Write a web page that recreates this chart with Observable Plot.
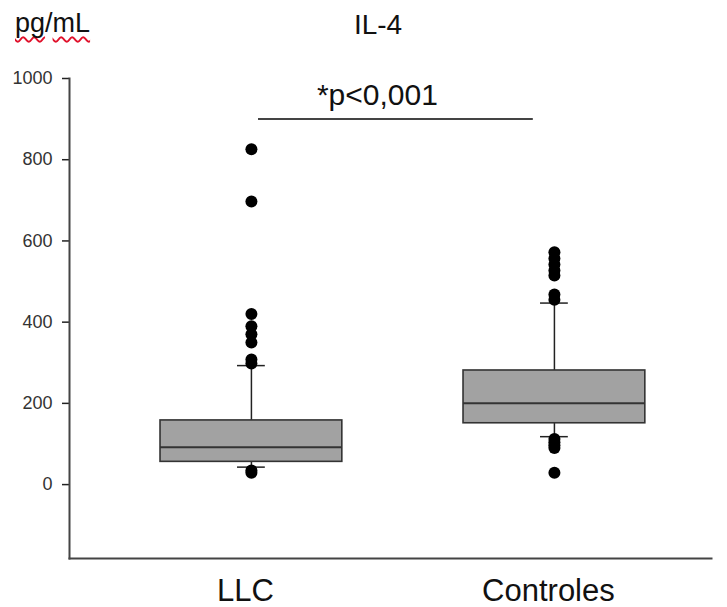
<!DOCTYPE html>
<html>
<head>
<meta charset="utf-8">
<script src="https://cdn.jsdelivr.net/npm/d3@7"></script>
<script src="https://cdn.jsdelivr.net/npm/@observablehq/plot@0.6"></script>
<style>
  html, body { margin: 0; padding: 0; background: #fff; overflow: hidden; }
  #wrap { position: relative; width: 727px; height: 607px; font-family: "Liberation Sans", Arial, sans-serif; }
  .lbl { position: absolute; color: #111; line-height: 1; white-space: nowrap; }
  .sq { text-decoration: underline wavy #e0102a; text-decoration-skip-ink: none; text-underline-offset: 4px; text-decoration-thickness: 1.5px; }
</style>
</head>
<body>
<div id="wrap">
  <div class="lbl" style="left:15px; top:10px; font-size:27px;"><span class="sq">pg</span>/<span class="sq">mL</span></div>
  <div class="lbl" style="left:378px; top:11px; font-size:28px; transform:translateX(-50%);">IL-4</div>
</div>
<script>
// Box statistics (pg/mL)
const groups = ["LLC", "Controles"];
const q1 = [56, 151];
const median = [92, 200];
const q3 = [158, 281];
const whiskerLow = [43, 118];
const whiskerHigh = [293, 447];
const outliersLLC = [826, 697, 420, 390, 370, 350, 308, 298, 35, 29];
const outliersControles = [572, 557, 542, 527, 515, 468, 455, 112, 104, 97, 90, 29];
const yTicks = [0, 200, 400, 600, 800, 1000];
const sigLabel = "*p<0,001";
const sigValue = 900;

const boxes = groups.map((g, i) => ({
  group: g, q1: q1[i], median: median[i], q3: q3[i], lo: whiskerLow[i], hi: whiskerHigh[i]
}));
const outliers = [
  ...outliersLLC.map(v => ({group: "LLC", value: v})),
  ...outliersControles.map(v => ({group: "Controles", value: v}))
];
const sig = [{from: groups[0], to: groups[1], y: sigValue, label: sigLabel}];

const chart = Plot.plot({
  width: 727,
  height: 607,
  marginTop: 78,
  marginBottom: 49,
  marginLeft: 69,
  marginRight: 16,
  style: {fontFamily: "'Liberation Sans', Arial, sans-serif", background: "#fff", color: "#222", overflow: "visible"},
  x: {domain: groups, paddingInner: 0.4, paddingOuter: 0.2594, align: 0.579, round: false, label: null},
  y: {domain: [-182, 1000], label: null},
  marks: [
    Plot.axisY({ticks: yTicks, tickFormat: d => String(d), tickSize: 7, tickPadding: 10, fontSize: 18, stroke: "#222", strokeWidth: 1.5, color: "#333", label: null}),
    Plot.axisX({tickSize: 0, tickPadding: 20, fontSize: 31, dx: -6, color: "#111", label: null}),
    Plot.frame({anchor: "left", stroke: "#444", strokeWidth: 2}),
    Plot.frame({anchor: "bottom", stroke: "#444", strokeWidth: 2}),
    // whiskers
    Plot.ruleX(boxes, {x: "group", y1: "lo", y2: "hi", stroke: "#222", strokeWidth: 1.5}),
    Plot.tickY(boxes, {x: "group", y: "hi", stroke: "#222", strokeWidth: 1.5, insetLeft: 77, insetRight: 77}),
    Plot.tickY(boxes, {x: "group", y: "lo", stroke: "#222", strokeWidth: 1.5, insetLeft: 77, insetRight: 77}),
    // boxes
    Plot.barY(boxes, {x: "group", y1: "q1", y2: "q3", fill: "#a2a2a2", stroke: "#333", strokeWidth: 1.6}),
    Plot.tickY(boxes, {x: "group", y: "median", stroke: "#333", strokeWidth: 2}),
    // outliers
    Plot.dot(outliers, {x: "group", y: "value", r: 6, fill: "#000", stroke: "none"}),
    // significance bar
    Plot.ruleY(sig, {y: "y", x1: "from", x2: "to", stroke: "#444", strokeWidth: 2, insetLeft: 98, insetRight: 112}),
    Plot.text(sig, {x: "from", y: "y", text: "label", fontSize: 30, fill: "#111", textAnchor: "middle", lineAnchor: "bottom", dx: 126, dy: -14})
  ]
});
document.getElementById("wrap").prepend(chart);
chart.style.position = "absolute";
chart.style.left = "0";
chart.style.top = "0";
</script>
</body>
</html>
